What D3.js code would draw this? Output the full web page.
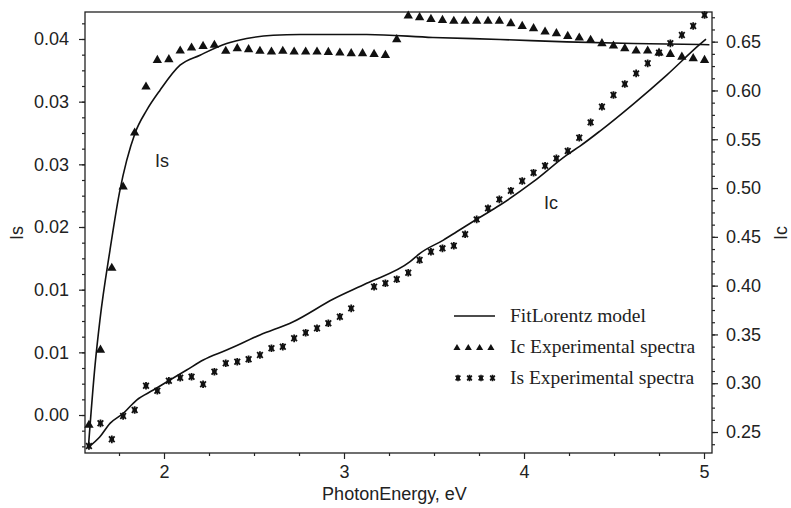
<html>
<head>
<script src="https://d3js.org/d3.v7.min.js"></script>
<style>
    body { margin: 0; padding: 0; background: #fff; }
    text { fill: #222; }
</style>
</head>
<body>
<svg id="chart" width="791" height="508"></svg>
<script>
// photon energy grid of the measured points, eV
const energy = [1.583, 1.647, 1.710, 1.773, 1.837, 1.900, 1.963, 2.027, 2.090, 2.153,
    2.217, 2.280, 2.343, 2.407, 2.470, 2.533, 2.597, 2.660, 2.723, 2.787,
    2.850, 2.913, 2.977, 3.040, 3.103, 3.167, 3.230, 3.293, 3.357, 3.420,
    3.483, 3.547, 3.610, 3.673, 3.737, 3.800, 3.863, 3.927, 3.990, 4.053,
    4.117, 4.180, 4.243, 4.307, 4.370, 4.433, 4.497, 4.560, 4.623, 4.687,
    4.750, 4.813, 4.877, 4.940, 5.003];

// triangles (read on the left "Is" axis)
const triValues = [-0.00104, 0.00674, 0.01524, 0.02367, 0.02927, 0.03404, 0.03680, 0.03688, 0.03777, 0.03808,
    0.03825, 0.03836, 0.03774, 0.03802, 0.03791, 0.03774, 0.03766, 0.03774, 0.03766, 0.03766,
    0.03766, 0.03763, 0.03756, 0.03750, 0.03750, 0.03742, 0.03732, 0.03895, 0.04140, 0.04123,
    0.04105, 0.04095, 0.04085, 0.04085, 0.04085, 0.04085, 0.04085, 0.04061, 0.04033, 0.04009,
    0.03974, 0.03957, 0.03929, 0.03912, 0.03888, 0.03853, 0.03829, 0.03802, 0.03777, 0.03777,
    0.03756, 0.03742, 0.03714, 0.03698, 0.03680];

// stars (read on the right "Ic" axis), null = no point
const starValues = [0.2357, 0.2589, 0.2425, 0.2664, 0.2725, 0.2974, 0.2923, 0.3026, 0.3056, 0.3067,
    0.2989, 0.3118, 0.3204, 0.3220, 0.3245, 0.3289, 0.3358, 0.3374, 0.3460, 0.3517,
    0.3563, 0.3614, 0.3681, 0.3767, null, 0.3989, 0.4024, 0.4065, 0.4132, 0.4262,
    0.4347, 0.4382, 0.4409, 0.4526, 0.4679, 0.4792, 0.4884, 0.4972, 0.5072, 0.5157,
    0.5229, 0.5304, 0.5379, 0.5515, 0.5673, 0.5833, 0.5953, 0.6066, 0.6175, 0.6278,
    0.6386, 0.6483, 0.6568, 0.6660, 0.6773];

// FitLorentz model curves
const fitIsE = [1.580, 1.617, 1.644, 1.700, 1.752, 1.839, 1.904, 1.978, 2.089, 2.200,
    2.348, 2.459, 2.607, 2.756, 3.126, 3.494, 3.867, 4.237, 4.606, 4.978, 5.030];
const fitIsV = [-0.00332, 0.00518, 0.00985, 0.01711, 0.02301, 0.02923, 0.03162, 0.03369, 0.03628, 0.03732,
    0.03853, 0.03905, 0.03939, 0.03947, 0.03947, 0.03916, 0.03895, 0.03870, 0.03853, 0.03843, 0.03841];
const fitIcE = [1.583, 1.644, 1.700, 1.774, 1.848, 1.941, 2.033, 2.126, 2.218, 2.348,
    2.533, 2.718, 2.941, 3.126, 3.367, 3.422, 3.552, 3.626, 3.746, 3.867,
    4.052, 4.237, 4.311, 4.422, 4.607, 4.793, 4.978, 5.011];
const fitIcV = [0.2349, 0.2452, 0.2589, 0.2692, 0.2828, 0.2930, 0.3033, 0.3135, 0.3238, 0.3340,
    0.3494, 0.3630, 0.3863, 0.4024, 0.4245, 0.4331, 0.4467, 0.4552, 0.4690, 0.4826,
    0.5065, 0.5338, 0.5430, 0.5584, 0.5861, 0.6158, 0.6475, 0.6527];

const xTicks = [2, 3, 4, 5];
const isTicks = [0, 0.0065, 0.013, 0.0195, 0.026, 0.0325, 0.039];
const isTickLabels = ["0.00", "0.01", "0.01", "0.02", "0.03", "0.03", "0.04"];
const icTicks = [0.25, 0.30, 0.35, 0.40, 0.45, 0.50, 0.55, 0.60, 0.65];
const legendLabels = ["FitLorentz model", "Ic Experimental spectra", "Is Experimental spectra"];

const svg = d3.select("#chart");
const plotL = 85, plotR = 712, plotT = 12, plotB = 453;
const sans = "'Liberation Sans', Arial, Helvetica, sans-serif";
const fs = 18;

const x = d3.scaleLinear().domain([1.5611, 5.0444]).range([plotL, plotR]);
const yIs = d3.scaleLinear().domain([-0.00394, 0.0418]).range([plotB, plotT]);
const yIc = d3.scaleLinear().domain([0.2285, 0.6804]).range([plotB, plotT]);

function styleAxis(g) {
    g.select(".domain").remove();
    g.selectAll("line").attr("stroke", "#222").attr("stroke-width", 1.2);
    g.selectAll("text").attr("font-family", sans).attr("font-size", fs).attr("fill", "#222");
}

// minor ticks
const xMinor = d3.range(1.75, 5.01, 0.25).filter(d => !xTicks.includes(d));
const isMinor = d3.range(-0.00325, 0.0418, 0.001625);
const icMinor = d3.range(0.2375, 0.68, 0.0125);

svg.append("g").attr("transform", `translate(0,${plotB})`)
    .call(d3.axisBottom(x).tickValues(xMinor).tickSize(3).tickFormat(""))
    .call(styleAxis);
svg.append("g").attr("transform", `translate(${plotL},0)`)
    .call(d3.axisLeft(yIs).tickValues(isMinor).tickSize(3).tickFormat(""))
    .call(styleAxis);
svg.append("g").attr("transform", `translate(${plotR},0)`)
    .call(d3.axisRight(yIc).tickValues(icMinor).tickSize(3).tickFormat(""))
    .call(styleAxis);

// major ticks
svg.append("g").attr("transform", `translate(0,${plotB})`)
    .call(d3.axisBottom(x).tickValues(xTicks).tickSize(6).tickPadding(6).tickFormat(d3.format("d")))
    .call(styleAxis);
svg.append("g").attr("transform", `translate(${plotL},0)`)
    .call(d3.axisLeft(yIs).tickValues(isTicks).tickSize(6).tickPadding(10).tickFormat((d, i) => isTickLabels[i]))
    .call(styleAxis);
svg.append("g").attr("transform", `translate(${plotR},0)`)
    .call(d3.axisRight(yIc).tickValues(icTicks).tickSize(6).tickPadding(8).tickFormat(d3.format(".2f")))
    .call(styleAxis);

// frame
svg.append("rect")
    .attr("x", plotL).attr("y", plotT)
    .attr("width", plotR - plotL).attr("height", plotB - plotT)
    .attr("fill", "none").attr("stroke", "#222").attr("stroke-width", 1.3);

// axis titles
svg.append("text").attr("x", (plotL + plotR) / 2 - 4).attr("y", 500)
    .attr("text-anchor", "middle").attr("font-family", sans).attr("font-size", fs)
    .text("PhotonEnergy, eV");
svg.append("text").attr("transform", "translate(23,233) rotate(-90)")
    .attr("text-anchor", "middle").attr("font-family", sans).attr("font-size", fs)
    .text("Is");
svg.append("text").attr("transform", "translate(787,233) rotate(-90)")
    .attr("text-anchor", "middle").attr("font-family", sans).attr("font-size", fs)
    .text("Ic");

// fit lines
const plot = svg.append("g");
const lineIs = d3.line().x(d => x(d[0])).y(d => yIs(d[1])).curve(d3.curveMonotoneX);
const lineIc = d3.line().x(d => x(d[0])).y(d => yIc(d[1])).curve(d3.curveMonotoneX);

plot.append("path").datum(d3.zip(fitIsE, fitIsV))
    .attr("d", lineIs).attr("fill", "none").attr("stroke", "#111").attr("stroke-width", 1.6);
plot.append("path").datum(d3.zip(fitIcE, fitIcV))
    .attr("d", lineIc).attr("fill", "none").attr("stroke", "#111").attr("stroke-width", 1.6);

// markers
const tri = d3.symbol().type(d3.symbolTriangle);
function starPath(r) {
    const k = r * 0.75;
    return `M0,${-r}L0,${r}M${-k},${-k}L${k},${k}M${-k},${k}L${k},${-k}M${-r * 0.6},0L${r * 0.6},0`;
}

plot.selectAll("path.tri").data(d3.zip(energy, triValues))
    .join("path")
    .attr("class", "tri")
    .attr("transform", d => `translate(${x(d[0])},${yIs(d[1])})`)
    .attr("d", tri.size(38))
    .attr("fill", "#111");

plot.selectAll("path.star").data(d3.zip(energy, starValues).filter(d => d[1] !== null))
    .join("path")
    .attr("class", "star")
    .attr("transform", d => `translate(${x(d[0])},${yIc(d[1])})`)
    .attr("d", starPath(3.8))
    .attr("fill", "none")
    .attr("stroke", "#111")
    .attr("stroke-width", 1.8);

// curve labels
svg.append("text").attr("x", 162).attr("y", 167).attr("text-anchor", "middle")
    .attr("font-family", sans).attr("font-size", fs).text("Is");
svg.append("text").attr("x", 551).attr("y", 209).attr("text-anchor", "middle")
    .attr("font-family", sans).attr("font-size", fs).text("Ic");

// legend
const legend = svg.append("g").attr("transform", "translate(454,316)");
const rowGap = 31;
legend.append("line").attr("x1", 0).attr("x2", 41).attr("y1", 0).attr("y2", 0)
    .attr("stroke", "#111").attr("stroke-width", 1.6);
[0, 1, 2, 3].forEach(i => {
    legend.append("path")
        .attr("transform", `translate(${3 + i * 11.3},${rowGap + 1})`)
        .attr("d", tri.size(22)).attr("fill", "#111");
    legend.append("path")
        .attr("transform", `translate(${4 + i * 11.5},${rowGap * 2})`)
        .attr("d", starPath(3.2)).attr("fill", "none")
        .attr("stroke", "#111").attr("stroke-width", 1.6);
});
legend.selectAll("text.lab").data(legendLabels)
    .join("text")
    .attr("class", "lab")
    .attr("x", 56)
    .attr("y", (d, i) => i * rowGap + 6)
    .attr("font-family", "'Liberation Serif', 'Times New Roman', serif")
    .attr("font-size", 19.5)
    .text(d => d);
</script>
</body>
</html>
